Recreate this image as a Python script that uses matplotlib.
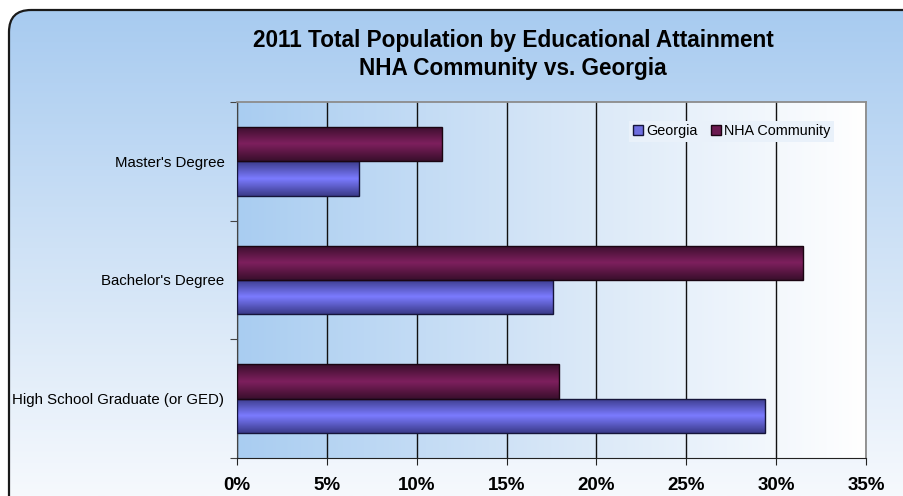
import numpy as np
import matplotlib
matplotlib.use("Agg")
import matplotlib.pyplot as plt
from matplotlib.patches import FancyBboxPatch
from matplotlib.colors import LinearSegmentedColormap

plt.rcParams['font.family'] = ['Liberation Sans', 'DejaVu Sans']

# data (percent of total population)
categories = ["High School Graduate (or GED)", "Bachelor's Degree", "Master's Degree"]
georgia = [29.4, 17.6, 6.8]
nha = [17.9, 31.5, 11.4]
series_names = ["Georgia", "NHA Community"]
x_ticks = [0, 5, 10, 15, 20, 25, 30, 35]

W, H = 904, 496
fig = plt.figure(figsize=(W / 100, H / 100), dpi=100)
fig.patch.set_facecolor("white")

# chart area: rounded frame with a vertical blue-to-white gradient
bg = fig.add_axes([0, 0, 1, 1])
bg.set_xlim(0, W)
bg.set_ylim(H, 0)
bg.axis("off")
frame = FancyBboxPatch((9, 10), W + 40, H + 40, boxstyle="round,pad=0,rounding_size=22",
                       facecolor="none", edgecolor="#1a1a1a", linewidth=1.6, zorder=3)
bg.add_patch(frame)
sky = LinearSegmentedColormap.from_list("sky", ["#a6caf0", "#cfe2f6", "#f6f9fd"])
grad = np.linspace(0, 1, 256).reshape(-1, 1)
im = bg.imshow(grad, cmap=sky, extent=[0, W, H, 0], aspect="auto", zorder=1)
im.set_clip_path(frame)

ax = fig.add_axes([237 / W, 1 - 458 / H, (866 - 237) / W, (458 - 102) / H])
ax.set_xlim(0, 35)
ax.set_ylim(-0.5, 2.5)
ax.patch.set_alpha(0)

# plot area: horizontal gradient
plot_bg = LinearSegmentedColormap.from_list("pbg", ["#a9cdf1", "#d6e6f7", "#ffffff"])
ax.imshow(np.linspace(0, 1, 256).reshape(1, -1), cmap=plot_bg, extent=[0, 35, -0.5, 2.5],
          aspect="auto", zorder=0)

y = np.arange(len(categories))
h = 0.29
blue_cm = LinearSegmentedColormap.from_list("b", ["#3b3b8a", "#7b7bff", "#3b3b8a"])
plum_cm = LinearSegmentedColormap.from_list("p", ["#3a0f2c", "#7e1f5e", "#3a0f2c"])

bars_g = ax.barh(y - h / 2, georgia, height=h, color="#6e6ee0", edgecolor="#15153a",
                 linewidth=1.0, zorder=3, label=series_names[0])
bars_n = ax.barh(y + h / 2, nha, height=h, color="#6b1a50", edgecolor="#1a0512",
                 linewidth=1.0, zorder=3, label=series_names[1])

# cylinder-like shading on each bar
shade = np.linspace(0, 1, 64).reshape(-1, 1)
for bars, cm in ((bars_g, blue_cm), (bars_n, plum_cm)):
    for b in bars:
        x0, y0 = b.get_x(), b.get_y()
        img = ax.imshow(shade, cmap=cm, extent=[x0, x0 + b.get_width(), y0, y0 + b.get_height()],
                        aspect="auto", zorder=3.5)
        img.set_clip_path(b)
        b.set_facecolor("none")
        b.set_zorder(4)

ax.set_xlim(0, 35)
ax.set_ylim(-0.5, 2.5)

ax.set_xticks(x_ticks)
ax.set_xticklabels([f"{v}%" for v in x_ticks], fontsize=13.5, fontweight="bold")
ax.xaxis.grid(True, color="#111111", linewidth=1.0, zorder=1)
ax.set_axisbelow(True)
ax.tick_params(axis="x", direction="out", length=5, color="#222222", pad=9)

ax.set_yticks([-0.5, 0.5, 1.5, 2.5])
ax.set_yticklabels([])
ax.set_yticks(y, minor=True)
ax.set_yticklabels(categories, minor=True, fontsize=10.8)
ax.tick_params(axis="y", which="minor", length=0, pad=9)
ax.tick_params(axis="y", which="major", direction="out", length=5, color="#444444")

for side in ("top", "right"):
    ax.spines[side].set_color("#8c8c8c")
    ax.spines[side].set_linewidth(1.3)
ax.spines["left"].set_color("#444444")
ax.spines["bottom"].set_color("#222222")

# legend box masks the gridlines behind it
leg = ax.legend(loc="upper left", bbox_to_anchor=(392 / 629, 0.948), ncol=2, frameon=True,
                fancybox=False, facecolor="#e9f1fa", edgecolor="none", framealpha=1,
                fontsize=10.4, handlelength=0.7, handleheight=0.7, handletextpad=0.25,
                columnspacing=0.9, borderaxespad=0, borderpad=0.25)
for patch in leg.get_patches():
    patch.set_linewidth(1.0)
leg.get_patches()[0].set_facecolor("#6e6ee0")
leg.get_patches()[1].set_facecolor("#6b1a50")

fig.text(513 / W, 1 - 40 / H, "2011 Total Population by Educational Attainment",
         ha="center", va="center", fontsize=16.3, fontweight="bold")
fig.text(513 / W, 1 - 68 / H, "NHA Community vs. Georgia",
         ha="center", va="center", fontsize=16.3, fontweight="bold")

fig.savefig("out.png", dpi=100, facecolor="white")
